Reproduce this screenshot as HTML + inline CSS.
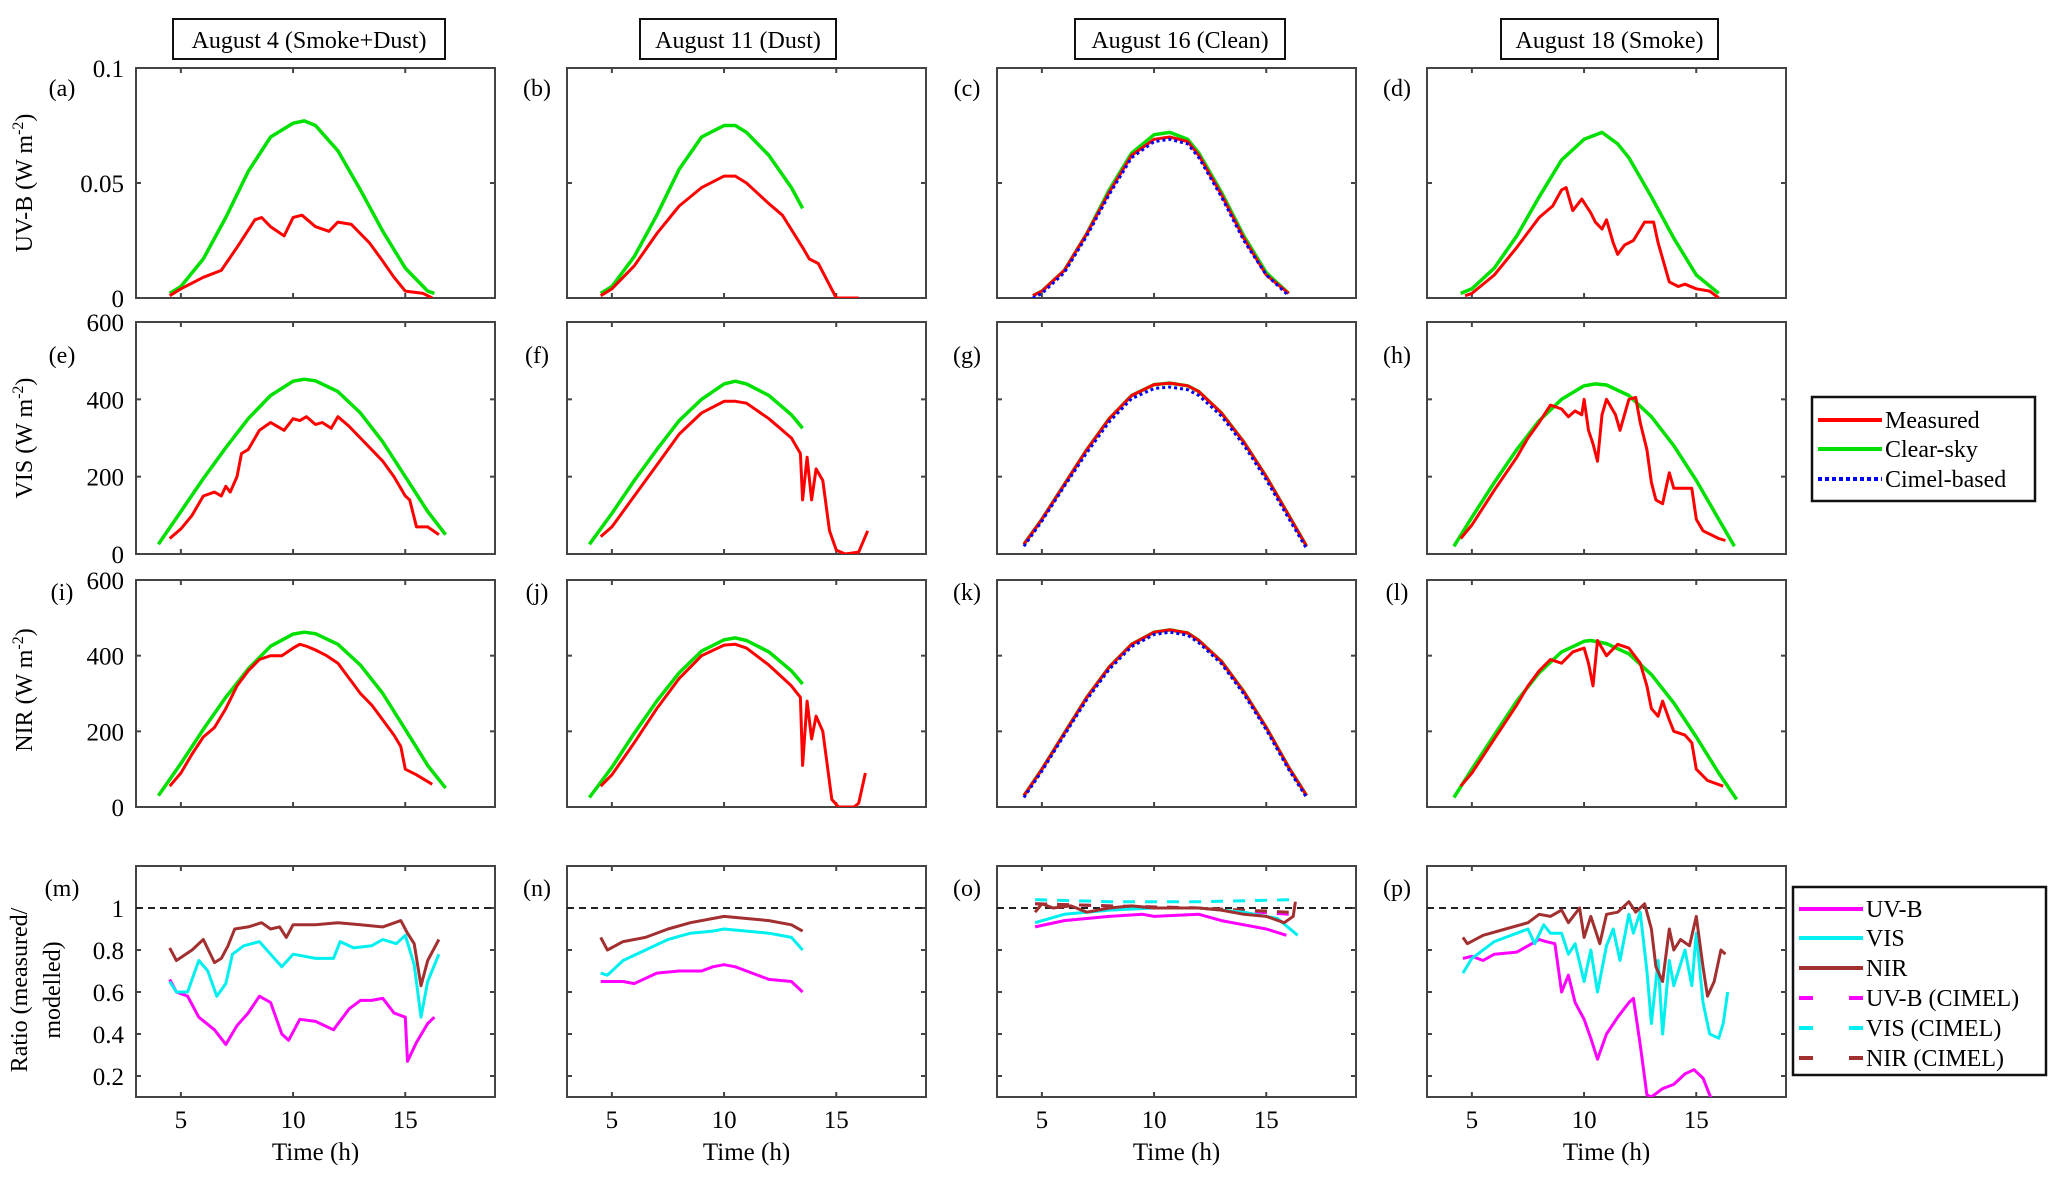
<!DOCTYPE html>
<html><head><meta charset="utf-8"><style>
body{margin:0;background:#fff;}
svg{display:block;font-family:"Liberation Serif",serif;}
</style></head><body>
<svg id="fig" width="2067" height="1181" viewBox="0 0 2067 1181" xmlns="http://www.w3.org/2000/svg"></svg>
<script>
// ---------- data ----------
const colTitles = ["August 4 (Smoke+Dust)","August 11 (Dust)","August 16 (Clean)","August 18 (Smoke)"];
const panelLetters = ["a","b","c","d","e","f","g","h","i","j","k","l","m","n","o","p"];
const xTicks = [5,10,15];
const uvbTicks = [0,0.05,0.1];
const uvbTickLabels = ["0","0.05","0.1"];
const visTicks = [0,200,400,600];
const ratioTicks = [0.2,0.4,0.6,0.8,1];
const ratioTickLabels = ["0.2","0.4","0.6","0.8","1"];

// UV-B
const uvbClearA_t=[4.5,5,6,7,8,9,10,10.5,11,12,13,14,15,16,16.3];
const uvbClearA_v=[0.002,0.005,0.017,0.035,0.055,0.070,0.076,0.077,0.075,0.064,0.047,0.029,0.013,0.003,0.002];
const uvbMeasA_t=[4.5,5,6,6.8,7.5,8.3,8.6,9,9.6,10,10.4,11,11.6,12,12.6,13.4,14,14.5,15,15.8,16.2];
const uvbMeasA_v=[0.001,0.004,0.009,0.012,0.022,0.034,0.035,0.031,0.027,0.035,0.036,0.031,0.029,0.033,0.032,0.024,0.016,0.009,0.003,0.002,0.0];
const uvbClearB_t=[4.5,5,6,7,8,9,10,10.5,11,12,13,13.5];
const uvbClearB_v=[0.002,0.005,0.018,0.036,0.056,0.070,0.075,0.075,0.072,0.062,0.048,0.039];
const uvbMeasB_t=[4.5,5,6,7,8,9,10,10.5,11,12,12.6,13.5,13.8,14.2,15,16];
const uvbMeasB_v=[0.001,0.004,0.014,0.028,0.040,0.048,0.053,0.053,0.050,0.041,0.036,0.022,0.017,0.015,0.0,0.0];
const uvbClearC_t=[4.6,5,6,7,8,9,10,10.7,11.5,12,13,14,15,16];
const uvbClearC_v=[0.001,0.003,0.012,0.028,0.047,0.063,0.071,0.072,0.069,0.063,0.046,0.027,0.011,0.002];
const uvbMeasC_v=[0.001,0.003,0.012,0.028,0.046,0.062,0.069,0.070,0.068,0.062,0.045,0.026,0.010,0.002];
const uvbCimelC_v=[0.000,0.002,0.011,0.027,0.045,0.061,0.068,0.069,0.067,0.061,0.044,0.025,0.010,0.001];
const uvbClearD_t=[4.5,5,6,7,8,9,10,10.8,11.5,12,13,14,15,16];
const uvbClearD_v=[0.002,0.004,0.013,0.027,0.044,0.060,0.069,0.072,0.067,0.061,0.044,0.026,0.010,0.002];
const uvbMeasD_t=[4.7,5,6,7,8,8.6,9,9.2,9.5,9.9,10.3,10.5,10.8,11,11.3,11.5,11.8,12.2,12.7,13.1,13.3,13.8,14.2,14.5,15,15.6,16];
const uvbMeasD_v=[0.001,0.002,0.010,0.022,0.035,0.040,0.047,0.048,0.038,0.043,0.037,0.033,0.030,0.034,0.024,0.019,0.023,0.025,0.033,0.033,0.024,0.007,0.005,0.006,0.004,0.003,0.0];

// VIS
const visClearA_t=[4.0,5,6,7,8,9,10,10.5,11,12,13,14,15,16,16.8];
const visClearA_v=[25,110,195,275,350,410,447,452,448,420,365,290,200,110,50];
const visMeasA_t=[4.5,5,5.5,6,6.5,6.8,7.0,7.2,7.5,7.7,8.0,8.5,9,9.3,9.6,10,10.3,10.6,11,11.3,11.7,12,12.5,13,13.5,14,14.5,15,15.2,15.5,16,16.5];
const visMeasA_v=[40,65,100,150,160,150,175,160,200,260,270,320,340,330,320,350,345,355,335,340,325,355,330,300,270,240,200,150,140,70,70,50];
const visClearB_t=[4.0,5,6,7,8,9,10,10.5,11,12,13,13.5];
const visClearB_v=[25,105,190,270,345,400,440,447,440,410,360,325];
const visMeasB_t=[4.5,5,6,7,8,9,10,10.5,11,12,13,13.4,13.5,13.7,13.9,14.1,14.4,14.7,15,15.4,16,16.4];
const visMeasB_v=[45,70,150,230,310,365,395,395,390,350,300,260,140,250,140,220,190,60,10,0,5,60];
const visClearC_t=[4.2,5,6,7,8,9,10,10.7,11.5,12,13,14,15,16,16.8];
const visClearC_v=[25,90,180,270,350,410,438,442,435,420,365,290,200,100,20];
const visMeasC_v=[25,90,180,270,350,410,438,442,435,420,365,290,200,100,20];
const visCimelC_v=[20,85,175,262,342,402,428,432,425,410,357,282,192,92,14];
const visClearD_t=[4.2,5,6,7,8,9,10,10.5,11,12,13,14,15,16,16.7];
const visClearD_v=[20,95,185,270,345,400,435,440,437,410,355,280,190,90,20];
const visMeasD_t=[4.5,5,6,7,7.5,8,8.5,9,9.3,9.6,9.9,10.0,10.2,10.4,10.6,10.8,11,11.4,11.6,12,12.3,12.5,12.8,13,13.2,13.5,13.8,14,14.5,14.8,15.0,15.3,16,16.3];
const visMeasD_v=[40,75,165,250,300,340,385,375,355,370,360,400,320,285,240,360,400,360,320,400,405,340,270,185,140,130,210,170,170,170,90,60,40,35];

// NIR
const nirClearA_t=[4.0,5,6,7,8,9,10,10.5,11,12,13,14,15,16,16.8];
const nirClearA_v=[30,115,205,290,365,425,457,462,458,430,375,300,205,110,50];
const nirMeasA_t=[4.5,5,5.5,6,6.5,7,7.5,8,8.5,9,9.5,10,10.3,10.6,11,11.5,12,12.5,13,13.5,14,14.5,14.8,15.0,15.5,16.2];
const nirMeasA_v=[55,90,140,185,210,260,320,360,390,400,400,420,430,425,415,400,380,340,300,270,230,190,160,100,85,60];
const nirClearB_t=[4.0,5,6,7,8,9,10,10.5,11,12,13,13.5];
const nirClearB_v=[25,105,195,280,355,412,442,447,440,410,360,325];
const nirMeasB_t=[4.5,5,6,7,8,9,10,10.5,11,12,13,13.4,13.5,13.7,13.9,14.1,14.4,14.8,15.1,15.8,16.0,16.3];
const nirMeasB_v=[55,85,170,260,340,400,428,430,420,375,320,290,110,280,180,240,200,20,0,0,10,90];
const nirClearC_t=[4.2,5,6,7,8,9,10,10.7,11.5,12,13,14,15,16,16.8];
const nirClearC_v=[30,100,195,290,370,430,462,468,460,440,385,305,210,105,30];
const nirMeasC_v=[30,100,195,290,370,430,462,468,460,440,385,305,210,105,30];
const nirCimelC_v=[25,95,190,284,364,424,456,462,454,434,379,299,204,99,25];
const nirClearD_t=[4.2,5,6,7,8,9,10,10.3,11,12,13,14,15,16,16.8];
const nirClearD_v=[25,100,190,280,355,410,438,440,432,405,350,275,185,90,20];
const nirMeasD_t=[4.5,5,6,7,7.5,8,8.5,9,9.5,10,10.2,10.4,10.6,11,11.5,12,12.5,12.8,13,13.3,13.5,13.8,14,14.5,14.8,15,15.5,16.2];
const nirMeasD_v=[55,90,180,270,320,360,390,380,410,420,380,320,440,400,430,420,380,320,260,240,280,230,200,190,170,100,70,55];

// Ratios
const rNirM_t=[4.5,4.8,5.5,6,6.5,6.8,7.1,7.4,8,8.6,9,9.4,9.7,10,11,12,13,14,14.8,15.1,15.4,15.7,16,16.5];
const rNirM_v=[0.81,0.75,0.80,0.85,0.74,0.76,0.82,0.90,0.91,0.93,0.90,0.91,0.86,0.92,0.92,0.93,0.92,0.91,0.94,0.88,0.83,0.63,0.75,0.85];
const rVisM_t=[4.5,4.8,5.3,5.8,6.2,6.6,7.0,7.3,7.8,8.5,9,9.5,10,11,11.8,12.1,12.7,13.5,14,14.6,15.0,15.4,15.7,16,16.5];
const rVisM_v=[0.65,0.60,0.60,0.75,0.70,0.58,0.64,0.78,0.82,0.84,0.78,0.72,0.78,0.76,0.76,0.84,0.81,0.82,0.85,0.83,0.87,0.73,0.48,0.65,0.78];
const rUvbM_t=[4.5,4.8,5.3,5.8,6.5,7,7.5,8,8.5,9,9.5,9.8,10.3,11,11.8,12.5,13,13.5,14,14.5,15,15.1,15.5,16,16.3];
const rUvbM_v=[0.66,0.60,0.58,0.48,0.42,0.35,0.44,0.50,0.58,0.55,0.40,0.37,0.47,0.46,0.42,0.52,0.56,0.56,0.57,0.50,0.48,0.27,0.36,0.45,0.48];
const rNirN_t=[4.5,4.8,5.5,6.5,7.5,8.5,9.5,10,11,12,13,13.5];
const rNirN_v=[0.86,0.80,0.84,0.86,0.90,0.93,0.95,0.96,0.95,0.94,0.92,0.89];
const rVisN_v=[0.69,0.68,0.75,0.80,0.85,0.88,0.89,0.90,0.89,0.88,0.86,0.80];
const rUvbN_t=[4.5,5.5,6,7,8,9,9.5,10,10.5,11,12,13,13.5];
const rUvbN_v=[0.65,0.65,0.64,0.69,0.70,0.70,0.72,0.73,0.72,0.70,0.66,0.65,0.60];
const rUvbO_t=[4.7,6,8,9.5,10,12,13,14,15,15.9];
const rUvbO_v=[0.91,0.94,0.96,0.97,0.96,0.97,0.94,0.92,0.90,0.87];
const rVisO_t=[4.7,6,8,10,12,14,15.5,16.4];
const rVisO_v=[0.93,0.97,0.99,1.00,1.00,0.98,0.95,0.87];
const rNirO_t=[4.7,5,5.5,6.3,7,8,9,10,12,13,14,15,15.8,16.2,16.3];
const rNirO_v=[0.98,1.02,1.00,1.01,0.98,1.00,1.01,1.00,1.00,0.99,0.97,0.96,0.93,0.96,1.03];
const rUvbOc_t=[4.7,8,12,16];
const rUvbOc_v=[1.02,1.01,1.00,0.97];
const rVisOc_t=[4.7,8,12,16.4];
const rVisOc_v=[1.04,1.03,1.03,1.04];
const rNirOc_t=[4.7,8,12,16];
const rNirOc_v=[1.02,1.01,1.00,0.98];
const rNirP_t=[4.6,4.8,5.5,6.5,7.5,8,8.5,9,9.3,9.8,10,10.3,10.7,11,11.5,12,12.3,12.7,13,13.2,13.5,13.8,14,14.3,14.7,15,15.3,15.5,15.8,16.1,16.3];
const rNirP_v=[0.86,0.83,0.87,0.90,0.93,0.97,0.96,0.99,0.93,1.0,0.86,0.96,0.83,0.97,0.98,1.03,0.98,1.02,0.90,0.72,0.65,0.90,0.80,0.85,0.82,0.96,0.72,0.58,0.65,0.80,0.78];
const rVisP_t=[4.6,5,6,7,7.5,7.8,8.2,8.5,9,9.3,9.6,10,10.3,10.6,11,11.3,11.6,12,12.2,12.5,12.8,13,13.3,13.5,13.8,14,14.5,14.8,15,15.3,15.6,16,16.2,16.4];
const rVisP_v=[0.69,0.76,0.84,0.88,0.90,0.83,0.92,0.88,0.88,0.78,0.83,0.65,0.80,0.60,0.82,0.90,0.75,0.97,0.88,0.98,0.70,0.45,0.75,0.40,0.75,0.63,0.80,0.63,0.88,0.55,0.40,0.38,0.45,0.60];
const rUvbP_t=[4.6,5,5.5,6,7,7.5,8,8.3,8.7,9,9.3,9.6,10,10.3,10.6,11,11.5,12,12.2,12.5,12.8,13,13.5,14,14.5,14.9,15.3,15.6,16];
const rUvbP_v=[0.76,0.77,0.75,0.78,0.79,0.82,0.85,0.84,0.83,0.60,0.68,0.55,0.47,0.38,0.28,0.40,0.48,0.55,0.57,0.35,0.11,0.10,0.14,0.16,0.21,0.23,0.19,0.11,0.02];

// ---------- layout ----------
const NS="http://www.w3.org/2000/svg";
const svg=document.getElementById('fig');
const colX=[136,567,997,1427], PW=359;
const rows=[{top:68,bot:298,min:0,max:0.1},{top:322,bot:554,min:0,max:600},{top:580,bot:807,min:0,max:600},{top:866,bot:1097,min:0.1,max:1.2}];
const XMIN=3,XMAX=19;
function mk(tag,attrs,parent){const e=document.createElementNS(NS,tag);for(const k in attrs)e.setAttribute(k,attrs[k]);(parent||svg).appendChild(e);return e;}
function xs(c,t){return colX[c]+(t-XMIN)/(XMAX-XMIN)*PW;}
function ys(r,v){const R=rows[r];return R.bot-(v-R.min)/(R.max-R.min)*(R.bot-R.top);}

const defs=mk('defs',{});
for(let r=0;r<4;r++)for(let c=0;c<4;c++){
  const cp=mk('clipPath',{id:'clip'+r+c},defs);
  mk('rect',{x:colX[c],y:rows[r].top,width:PW,height:rows[r].bot-rows[r].top},cp);
}

function series(r,c,ts,vs,color,w,dash,name){
  let d='';
  for(let i=0;i<ts.length;i++)d+=(i?'L':'M')+xs(c,ts[i]).toFixed(1)+','+ys(r,vs[i]).toFixed(1);
  const p=mk('path',{d:d,fill:'none',stroke:color,'stroke-width':w,'stroke-linejoin':'round','clip-path':'url(#clip'+r+c+')'});
  if(dash)p.setAttribute('stroke-dasharray',dash);
  
  
}

// panels
for(let r=0;r<4;r++)for(let c=0;c<4;c++){
  const R=rows[r],x0=colX[c],x1=x0+PW;
  const fr=mk('rect',{x:x0,y:R.top,width:PW,height:R.bot-R.top,fill:'none',stroke:'#444','stroke-width':2});
  
  
  xTicks.forEach(t=>{const X=xs(c,t);
    mk('line',{x1:X,x2:X,y1:R.bot,y2:R.bot-5,stroke:'#444','stroke-width':2});
    mk('line',{x1:X,x2:X,y1:R.top,y2:R.top+5,stroke:'#444','stroke-width':2});
    if(r===3){const tl=mk('text',{x:X,y:1128,'font-size':25,'text-anchor':'middle'});tl.textContent=t;
      
      }
  });
  const yt = r===0?uvbTicks:(r===3?ratioTicks:visTicks);
  const ytl = r===0?uvbTickLabels:(r===3?ratioTickLabels:visTicks.map(String));
  yt.forEach((v,i)=>{const Y=ys(r,v);
    mk('line',{x1:x0,x2:x0+5,y1:Y,y2:Y,stroke:'#444','stroke-width':2});
    mk('line',{x1:x1,x2:x1-5,y1:Y,y2:Y,stroke:'#444','stroke-width':2});
    if(c===0){const tl=mk('text',{x:124,y:Y+9,'font-size':25,'text-anchor':'end'});tl.textContent=ytl[i];
      
      }
  });
  const lab=mk('text',{x:c===0?x0-74:x0-30,y:[96,363,600,896][r],'font-size':24,'text-anchor':'middle'});
  lab.textContent='('+panelLetters[r*4+c]+')';
  
  
  if(r===3){
    const dl=mk('line',{x1:x0,x2:x1,y1:ys(3,1),y2:ys(3,1),stroke:'#222','stroke-width':2,'stroke-dasharray':'7,5'});
    
    
    const xl=mk('text',{x:x0+PW/2,y:1160,'font-size':25,'text-anchor':'middle'});xl.textContent='Time (h)';
    
    
  }
}
// column titles
const boxes=[[173,445],[640,836],[1075,1285],[1501,1718]];
colTitles.forEach((t,i)=>{
  const b=mk('rect',{x:boxes[i][0],y:19,width:boxes[i][1]-boxes[i][0],height:40,fill:'#fff',stroke:'#111','stroke-width':2});
  
  
  const tx=mk('text',{x:(boxes[i][0]+boxes[i][1])/2,y:48,'font-size':24,'text-anchor':'middle'});tx.textContent=t;
  
  
});
// y titles
function ytitle(lines,cy,xs_){lines.forEach((l,i)=>{const t=mk('text',{x:0,y:0,'font-size':24,'text-anchor':'middle',transform:`translate(${xs_[i]},${cy}) rotate(-90)`});t.innerHTML=l;
  
  });}
ytitle(['UV-B (W m<tspan font-size="16" dy="-9">-2</tspan><tspan dy="9">)</tspan>'],183,[32]);
ytitle(['VIS (W m<tspan font-size="16" dy="-9">-2</tspan><tspan dy="9">)</tspan>'],438,[32]);
ytitle(['NIR (W m<tspan font-size="16" dy="-9">-2</tspan><tspan dy="9">)</tspan>'],690,[32]);
ytitle(['Ratio (measured/','modelled)'],990,[27,60]);

const RED='#ff0000',GRN='#00e000',BLU='#0000ff',MAG='#ff00ff',CYA='#00f0f0',BRN='#a33030';
// row 0
series(0,0,uvbClearA_t,uvbClearA_v,GRN,3.5,null,'uvb-clear-a');series(0,0,uvbMeasA_t,uvbMeasA_v,RED,3,null,'uvb-measured-a');
series(0,1,uvbClearB_t,uvbClearB_v,GRN,3.5,null,'uvb-clear-b');series(0,1,uvbMeasB_t,uvbMeasB_v,RED,3,null,'uvb-measured-b');
series(0,2,uvbClearC_t,uvbClearC_v,GRN,3.5,null,'uvb-clear-c');series(0,2,uvbClearC_t,uvbMeasC_v,RED,3,null,'uvb-measured-c');series(0,2,uvbClearC_t,uvbCimelC_v,BLU,3,'3,3','uvb-cimel-c');
series(0,3,uvbClearD_t,uvbClearD_v,GRN,3.5,null,'uvb-clear-d');series(0,3,uvbMeasD_t,uvbMeasD_v,RED,3,null,'uvb-measured-d');
// row 1
series(1,0,visClearA_t,visClearA_v,GRN,3.5,null,'vis-clear-e');series(1,0,visMeasA_t,visMeasA_v,RED,3,null,'vis-measured-e');
series(1,1,visClearB_t,visClearB_v,GRN,3.5,null,'vis-clear-f');series(1,1,visMeasB_t,visMeasB_v,RED,3,null,'vis-measured-f');
series(1,2,visClearC_t,visClearC_v,GRN,3.5,null,'vis-clear-g');series(1,2,visClearC_t,visMeasC_v,RED,3,null,'vis-measured-g');series(1,2,visClearC_t,visCimelC_v,BLU,3,'3,3','vis-cimel-g');
series(1,3,visClearD_t,visClearD_v,GRN,3.5,null,'vis-clear-h');series(1,3,visMeasD_t,visMeasD_v,RED,3,null,'vis-measured-h');
// row 2
series(2,0,nirClearA_t,nirClearA_v,GRN,3.5,null,'nir-clear-i');series(2,0,nirMeasA_t,nirMeasA_v,RED,3,null,'nir-measured-i');
series(2,1,nirClearB_t,nirClearB_v,GRN,3.5,null,'nir-clear-j');series(2,1,nirMeasB_t,nirMeasB_v,RED,3,null,'nir-measured-j');
series(2,2,nirClearC_t,nirClearC_v,GRN,3.5,null,'nir-clear-k');series(2,2,nirClearC_t,nirMeasC_v,RED,3,null,'nir-measured-k');series(2,2,nirClearC_t,nirCimelC_v,BLU,3,'3,3','nir-cimel-k');
series(2,3,nirClearD_t,nirClearD_v,GRN,3.5,null,'nir-clear-l');series(2,3,nirMeasD_t,nirMeasD_v,RED,3,null,'nir-measured-l');
// row 3
series(3,0,rUvbM_t,rUvbM_v,MAG,3,null,'ratio-uvb-m');series(3,0,rVisM_t,rVisM_v,CYA,3,null,'ratio-vis-m');series(3,0,rNirM_t,rNirM_v,BRN,3,null,'ratio-nir-m');
series(3,1,rUvbN_t,rUvbN_v,MAG,3,null,'ratio-uvb-n');series(3,1,rNirN_t,rVisN_v,CYA,3,null,'ratio-vis-n');series(3,1,rNirN_t,rNirN_v,BRN,3,null,'ratio-nir-n');
series(3,2,rUvbOc_t,rUvbOc_v,MAG,3,'12,10','ratio-uvb-cimel-o');series(3,2,rVisOc_t,rVisOc_v,CYA,3,'12,10','ratio-vis-cimel-o');series(3,2,rNirOc_t,rNirOc_v,BRN,3,'12,10','ratio-nir-cimel-o');
series(3,2,rUvbO_t,rUvbO_v,MAG,3,null,'ratio-uvb-o');series(3,2,rVisO_t,rVisO_v,CYA,3,null,'ratio-vis-o');series(3,2,rNirO_t,rNirO_v,BRN,3,null,'ratio-nir-o');
series(3,3,rUvbP_t,rUvbP_v,MAG,3,null,'ratio-uvb-p');series(3,3,rVisP_t,rVisP_v,CYA,3,null,'ratio-vis-p');series(3,3,rNirP_t,rNirP_v,BRN,3,null,'ratio-nir-p');

// legends
function legend(x,y,w,h,items,rowY,name){
  const g=mk('g',{});
  
  
  mk('rect',{x:x,y:y,width:w,height:h,fill:'#fff',stroke:'#111','stroke-width':2.5},g);
  items.forEach((it,i)=>{const Y=rowY[i];
    const l=mk('line',{x1:x+6,x2:x+70,y1:Y,y2:Y,stroke:it[1],'stroke-width':4},g);
    if(it[2])l.setAttribute('stroke-dasharray',it[2]);
    const t=mk('text',{x:x+73,y:Y+8,'font-size':24},g);t.textContent=it[0];
    
    
  });
}
legend(1812,397,223,104,[['Measured',RED],['Clear-sky',GRN],['Cimel-based',BLU,'4,3']],[420,449,479],'legend-irradiance');
legend(1793,887,253,188,[['UV-B',MAG],['VIS',CYA],['NIR',BRN],['UV-B (CIMEL)',MAG,'14,36'],['VIS (CIMEL)',CYA,'14,36'],['NIR (CIMEL)',BRN,'14,36']],[909,938,968,998,1028,1058],'legend-ratio');
</script>
</body></html>
